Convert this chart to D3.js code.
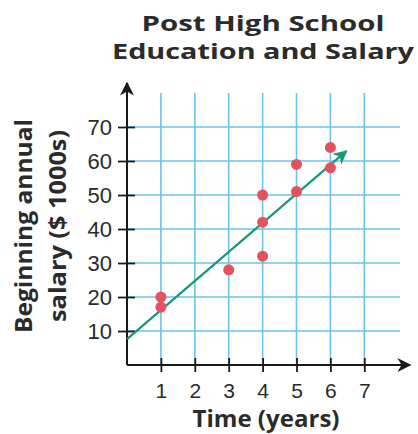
<!DOCTYPE html>
<html>
<head>
<meta charset="utf-8">
<script src="https://cdn.jsdelivr.net/npm/d3@7"></script>
<style>
  body { margin: 0; background: #fff; }
  svg { display: block; }
  .title, .axis-title { font-family: "Open Sans", "DejaVu Sans", sans-serif; font-weight: 700; fill: #2b2b2b; }
  .tick-label { font-family: "Liberation Sans Narrow", "Liberation Sans", sans-serif; fill: #2b2b2b; }
</style>
</head>
<body>
<div id="chart"></div>
<script>
// --------------- Data ---------------
const years = [1, 1, 3, 4, 4, 4, 5, 5, 6, 6];
const salaries = [20, 17, 28, 32, 42, 50, 51, 59, 58, 64];
const xTicks = [1, 2, 3, 4, 5, 6, 7];
const yTicks = [10, 20, 30, 40, 50, 60, 70];
// trend line, from the y-axis to the arrow tip
const trendX = [0, 6.47];
const trendY = [7.6, 62.9];
const titleLines = ["Post High School", "Education and Salary"];
const yTitleLines = ["Beginning annual", "salary ($ 1000s)"];
const xTitle = "Time (years)";

// --------------- Constants ---------------
const WIDTH = 418;
const HEIGHT = 434;
const ORIGIN = { x: 127, y: 365 };
const UNIT_X = 33.9;
const UNIT_Y = 3.4;

const GRID_COLOR = "#6cc3ec";
const DOT_COLOR = "#e2535d";
const LINE_COLOR = "#17987a";

const X_SCALE = d3.scaleLinear().domain([0, 7]).range([ORIGIN.x, ORIGIN.x + 7 * UNIT_X]);
const Y_SCALE = d3.scaleLinear().domain([0, 70]).range([ORIGIN.y, ORIGIN.y - 70 * UNIT_Y]);

const svg = d3
  .select("#chart")
  .append("svg")
  .attr("width", WIDTH)
  .attr("height", HEIGHT);

const defs = svg.append("defs");
const arrow = (id, color) =>
  defs
    .append("marker")
    .attr("id", id)
    .attr("viewBox", "0 0 10 10")
    .attr("refX", 9)
    .attr("refY", 5)
    .attr("markerUnits", "userSpaceOnUse")
    .attr("markerWidth", 14)
    .attr("markerHeight", 14)
    .attr("orient", "auto")
    .append("path")
    .attr("d", "M0,0 L10,5 L0,10 L3,5 Z")
    .attr("fill", color);
arrow("arrow-black", "#1a1a1a");
arrow("arrow-green", LINE_COLOR);

// Grid
const grid = svg.append("g");
grid
  .selectAll("line.h")
  .data(yTicks)
  .join("line")
  .attr("class", "h")
  .attr("x1", ORIGIN.x)
  .attr("x2", 400)
  .attr("y1", (d) => Y_SCALE(d))
  .attr("y2", (d) => Y_SCALE(d))
  .attr("stroke", GRID_COLOR)
  .attr("stroke-width", 1.6);
grid
  .selectAll("line.v")
  .data(xTicks)
  .join("line")
  .attr("class", "v")
  .attr("x1", (d) => X_SCALE(d))
  .attr("x2", (d) => X_SCALE(d))
  .attr("y1", 93)
  .attr("y2", ORIGIN.y)
  .attr("stroke", GRID_COLOR)
  .attr("stroke-width", 1.6);

// Axes
const xAxis = svg
  .append("g")
  .attr("transform", `translate(0,${ORIGIN.y})`)
  .call(
    d3.axisBottom(X_SCALE)
      .tickValues(xTicks)
      .tickFormat(d3.format("d"))
      .tickSizeInner(7)
      .tickSizeOuter(0)
      .tickPadding(11)
  );
xAxis.select(".domain").remove();
xAxis.selectAll(".tick line").attr("y1", -7).attr("stroke", "#1a1a1a").attr("stroke-width", 1.8);
xAxis.selectAll(".tick text").attr("class", "tick-label").attr("font-size", 21).attr("fill", null);

const yAxis = svg
  .append("g")
  .attr("transform", `translate(${ORIGIN.x},0)`)
  .call(
    d3.axisLeft(Y_SCALE)
      .tickValues(yTicks)
      .tickFormat(d3.format("d"))
      .tickSizeInner(9)
      .tickSizeOuter(0)
      .tickPadding(6)
  );
yAxis.select(".domain").remove();
yAxis.selectAll(".tick line").attr("x1", 8).attr("x2", -9).attr("stroke", "#1a1a1a").attr("stroke-width", 1.8);
yAxis.selectAll(".tick text").attr("class", "tick-label").attr("font-size", 22).attr("fill", null);

svg
  .append("line")
  .attr("x1", ORIGIN.x)
  .attr("y1", ORIGIN.y)
  .attr("x2", 410)
  .attr("y2", ORIGIN.y)
  .attr("stroke", "#1a1a1a")
  .attr("stroke-width", 2)
  .attr("marker-end", "url(#arrow-black)");
svg
  .append("line")
  .attr("x1", ORIGIN.x)
  .attr("y1", ORIGIN.y)
  .attr("x2", ORIGIN.x)
  .attr("y2", 83)
  .attr("stroke", "#1a1a1a")
  .attr("stroke-width", 2)
  .attr("marker-end", "url(#arrow-black)");

// Trend line
svg
  .append("line")
  .attr("x1", X_SCALE(trendX[0]))
  .attr("y1", Y_SCALE(trendY[0]))
  .attr("x2", X_SCALE(trendX[1]))
  .attr("y2", Y_SCALE(trendY[1]))
  .attr("stroke", LINE_COLOR)
  .attr("stroke-width", 2.2)
  .attr("marker-end", "url(#arrow-green)");

// Points
svg
  .append("g")
  .selectAll("circle")
  .data(years.map((y, i) => [y, salaries[i]]))
  .join("circle")
  .attr("cx", ([x, _s]) => X_SCALE(x))
  .attr("cy", ([_x, s]) => Y_SCALE(s))
  .attr("r", 5.5)
  .attr("fill", DOT_COLOR);

// Titles (widths stretched to the reference)
const titleWidths = [243, 302];
svg
  .selectAll("text.title")
  .data(titleLines)
  .join("text")
  .attr("class", "title")
  .attr("x", 263)
  .attr("y", (_d, i) => 31 + i * 28)
  .attr("text-anchor", "middle")
  .attr("font-size", 21)
  .attr("textLength", (_d, i) => titleWidths[i])
  .attr("lengthAdjust", "spacingAndGlyphs")
  .text((d) => d);

const yTitleWidths = [214, 192];
svg
  .selectAll("text.ytitle")
  .data(yTitleLines)
  .join("text")
  .attr("class", "axis-title ytitle")
  .attr("transform", (_d, i) => `translate(${32 + i * 34},226) rotate(-90)`)
  .attr("text-anchor", "middle")
  .attr("font-size", 23)
  .attr("textLength", (_d, i) => yTitleWidths[i])
  .attr("lengthAdjust", "spacingAndGlyphs")
  .text((d) => d);

svg
  .append("text")
  .attr("class", "axis-title")
  .attr("x", 266)
  .attr("y", 427)
  .attr("text-anchor", "middle")
  .attr("font-size", 23)
  .attr("textLength", 147)
  .attr("lengthAdjust", "spacingAndGlyphs")
  .text(xTitle);
</script>
</body>
</html>
